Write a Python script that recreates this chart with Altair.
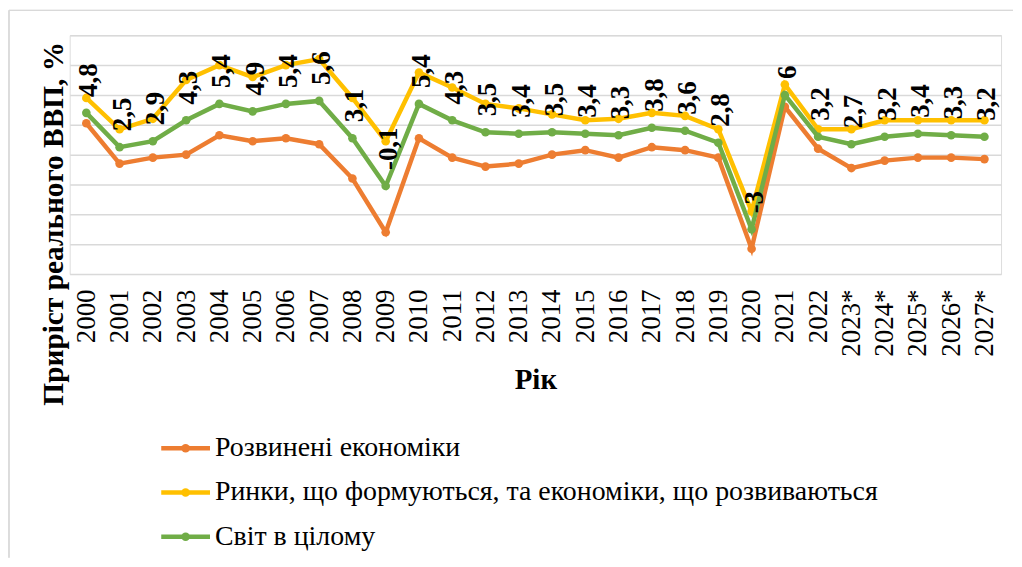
import altair as alt
import pandas as pd

years = ["2000", "2001", "2002", "2003", "2004", "2005", "2006", "2007", "2008", "2009",
         "2010", "2011", "2012", "2013", "2014", "2015", "2016", "2017", "2018", "2019",
         "2020", "2021", "2022", "2023*", "2024*", "2025*", "2026*", "2027*"]
advanced = [4.1, 1.4, 1.8, 2.0, 3.3, 2.9, 3.1, 2.7, 0.4, -3.2,
            3.1, 1.8, 1.2, 1.4, 2.0, 2.3, 1.8, 2.5, 2.3, 1.8,
            -4.3, 5.2, 2.4, 1.1, 1.6, 1.8, 1.8, 1.7]
emerging = [5.8, 3.7, 4.4, 7.0, 8.0, 7.2, 8.0, 8.4, 5.8, 2.9,
            7.5, 6.5, 5.4, 5.1, 4.7, 4.3, 4.4, 4.8, 4.6, 3.7,
            -1.8, 6.7, 3.7, 3.7, 4.3, 4.3, 4.3, 4.3]
world = [4.8, 2.5, 2.9, 4.3, 5.4, 4.9, 5.4, 5.6, 3.1, -0.1,
         5.4, 4.3, 3.5, 3.4, 3.5, 3.4, 3.3, 3.8, 3.6, 2.8,
         -3.0, 6.0, 3.2, 2.7, 3.2, 3.4, 3.3, 3.2]
series_names = ["Розвинені економіки",
                "Ринки, що формуються, та економіки, що розвиваються",
                "Світ в цілому"]
series_colors = ["#ED7D31", "#FFC000", "#70AD47"]
y_ticks = [-6, -4, -2, 0, 2, 4, 6, 8, 10]

FONT = "Liberation Serif, serif"

rows = []
for name, vals in zip(series_names, [advanced, emerging, world]):
    for yr, v in zip(years, vals):
        rows.append({"year": yr, "series": name, "value": v})
df = pd.DataFrame(rows)
lab = pd.DataFrame({"year": years, "value": world,
                    "label": [f"{v:g}".replace(".", ",") for v in world]})
leg = pd.DataFrame({"series": series_names})

xenc = alt.X("year:N", sort=years,
             scale=alt.Scale(type="point", padding=0.5),
             axis=alt.Axis(title="Рік", labelAngle=270, labelAlign="right",
                           labelBaseline="middle", labelFont=FONT, labelFontSize=27,
                           labelColor="#000000", labelPadding=15, ticks=False,
                           domain=False, grid=False, titleFont=FONT,
                           titleFontSize=29, titleFontWeight="bold",
                           titleColor="#000000", titlePadding=10))
yenc = alt.Y("value:Q", scale=alt.Scale(domain=[-6, 10], nice=False, zero=False),
             axis=alt.Axis(values=y_ticks, labels=False, ticks=False, domain=False,
                           grid=True, gridColor="#d9d9d9", gridWidth=1.5,
                           title="Приріст реального ВВП, %", titleFont=FONT,
                           titleFontSize=29.5, titleFontWeight="bold",
                           titleColor="#000000", titleAngle=270, titleAlign="center",
                           titleBaseline="middle", titleX=-16, titleY=189))

layers = []
for name, col in zip(series_names, series_colors):
    base = alt.Chart(df).transform_filter(alt.datum.series == name)
    layers.append(base.mark_line(color=col, strokeWidth=4.5).encode(x=xenc, y=yenc))
    layers.append(base.mark_circle(color=col, size=75, opacity=1).encode(x=xenc, y=yenc))

labels = alt.Chart(lab).mark_text(font=FONT, fontSize=27, fontWeight="bold",
                                  color="#000000", angle=270, align="left",
                                  baseline="middle", dx=16, dy=3).encode(
    x=xenc, y=yenc, text="label:N")
layers.append(labels)
main = alt.layer(*layers)

ly = alt.Y("series:N", sort=series_names,
           scale=alt.Scale(type="point", range=[415, 504], padding=0), axis=None)
lc = alt.Color("series:N", scale=alt.Scale(domain=series_names, range=series_colors),
               legend=None)
leg_base = alt.Chart(leg)
leg_line = leg_base.mark_rule(strokeWidth=4.5).encode(
    x=alt.value(92), x2=alt.value(141), y=ly, color=lc)
leg_dot = leg_base.mark_circle(size=75, opacity=1).encode(
    x=alt.value(116.5), y=ly, color=lc)
leg_text = leg_base.mark_text(font=FONT, fontSize=28, align="left", baseline="middle",
                              color="#000000").encode(
    x=alt.value(146), y=ly, text="series:N")
top_border = leg_base.mark_rule(color="#d9d9d9", strokeWidth=1).encode(
    x=alt.value(-61), x2=alt.value(948), y=alt.value(-25))
left_border = leg_base.mark_rule(color="#d9d9d9", strokeWidth=1).encode(
    x=alt.value(-61), y=alt.value(-25), y2=alt.value(525))
legend = alt.layer(leg_line, leg_dot, leg_text, top_border, left_border)

chart = alt.layer(main, legend).resolve_scale(y="independent").properties(
    width=936, height=240, padding=0
).configure_view(strokeWidth=0).configure(background="#ffffff")

chart.save("out.html", embed_options={"renderer": "svg", "actions": False})
